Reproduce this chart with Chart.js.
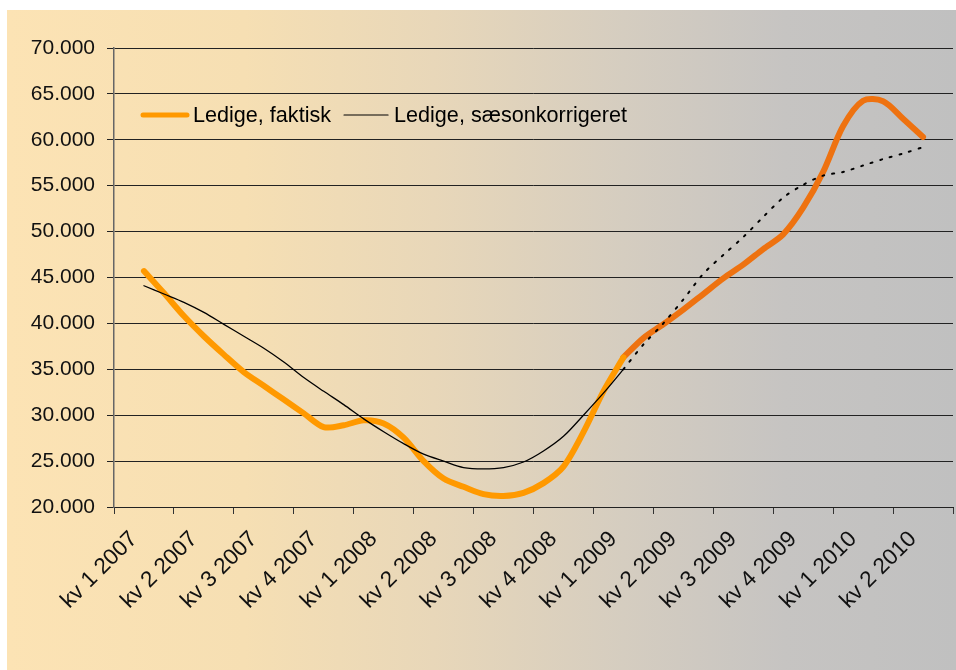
<!DOCTYPE html>
<html>
<head>
<meta charset="utf-8">
<script src="https://cdn.jsdelivr.net/npm/chart.js@4/dist/chart.umd.min.js"></script>
<style>
    html, body { margin: 0; padding: 0; background: #fff; }
    #boks {
        position: absolute;
        left: 7px;
        top: 10px;
        width: 949px;
        height: 660px;
        background: linear-gradient(to right, #fce3b4 0%, #f6dfb3 25%, #e8d7b9 45%, #d5cdc0 65%, #c6c4c2 82%, #c0c0c0 100%);
    }
</style>
</head>
<body>
<div id="boks"><canvas id="ledighed" width="949" height="660"></canvas></div>
<script>
// kvartaler paa x-aksen (3 maaneder pr. kvartal)
const kvartaler = [
    "kv 1 2007", "kv 2 2007", "kv 3 2007", "kv 4 2007",
    "kv 1 2008", "kv 2 2008", "kv 3 2008", "kv 4 2008",
    "kv 1 2009", "kv 2 2009", "kv 3 2009", "kv 4 2009",
    "kv 1 2010", "kv 2 2010",
];
// maanedstal, feb 2007 - feb 2009
const faktisk = [
    45700, 43300, 40800, 38600, 36600, 34700, 33200, 31700, 30200, 28700,
    28900, 29450, 29100, 27550, 25000, 23100, 22200, 21400, 21200, 21550,
    22600, 24400, 28150, 32600, 36300,
];
const saeson = [
    44100, 43200, 42300, 41200, 39900, 38600, 37300, 35800, 34100, 32600,
    31150, 29600, 28200, 26900, 25750, 25000, 24300, 24150, 24300, 24900,
    26100, 27700, 30000, 32400, 35000,
];
// fremskrivning, feb 2009 - maj 2010
const faktiskPrognose = [
    36300, 38400, 39900, 41500, 43200, 44900, 46400, 48100, 49700, 52600,
    56500, 61500, 64250, 64200, 62300, 60300,
];
const saesonPrognose = [
    35000, 37700, 40000, 42600, 45400, 47450, 49400, 51600, 53700, 55100,
    56100, 56500, 57200, 57900, 58500, 59200,
];
const yTicks = [20000, 25000, 30000, 35000, 40000, 45000, 50000, 55000, 60000, 65000, 70000];

const forsteMaaned = 1; // februar 2007
const prognoseStart = forsteMaaned + faktisk.length - 1;

var maaneder = [];
kvartaler.forEach((kv) => {
    maaneder.push(kv, kv, kv);
});

function udfyld(values, start) {
    var arr = new Array(maaneder.length).fill(null);
    for (let i = 0; i < values.length; i++) {
        arr[start + i] = values[i];
    }
    return arr;
}

function punktum(v) {
    return v.toString().replace(/\B(?=(\d{3})+(?!\d))/g, ".");
}

const fontFamily = "'Liberation Sans', Arial, sans-serif";

const indreLegende = {
    id: "indreLegende",
    afterDatasetsDraw(chart) {
        const ctx = chart.ctx;
        const area = chart.chartArea;
        const items = [
            { text: "Ledige, faktisk", color: "#ff9900", width: 5 },
            { text: "Ledige, sæsonkorrigeret", color: "#000000", width: 1.2 },
        ];
        var x = area.left + 29;
        const y = area.top + 67;
        ctx.save();
        ctx.font = "21.6px " + fontFamily;
        ctx.textBaseline = "middle";
        ctx.lineCap = "round";
        items.forEach((item) => {
            ctx.beginPath();
            ctx.strokeStyle = item.color;
            ctx.lineWidth = item.width;
            ctx.moveTo(x, y);
            ctx.lineTo(x + 44, y);
            ctx.stroke();
            ctx.fillStyle = "#000";
            ctx.fillText(item.text, x + 50, y + 1);
            x += 50 + ctx.measureText(item.text).width + 13;
        });
        ctx.restore();
    },
};

var ctx = document.getElementById("ledighed");
var chart = new Chart(ctx, {
    type: "line",
    data: {
        labels: maaneder,
        datasets: [
            {
                label: "Ledige, sæsonkorrigeret",
                data: udfyld(saeson, forsteMaaned),
                borderColor: "#000",
                borderWidth: 1.3,
                order: 1,
            },
            {
                label: "Ledige, sæsonkorrigeret (prognose)",
                data: udfyld(saesonPrognose, prognoseStart),
                borderColor: "#000",
                borderWidth: 2,
                borderDash: [2, 8],
                order: 2,
            },
            {
                label: "Ledige, faktisk",
                data: udfyld(faktisk, forsteMaaned),
                borderColor: "#ff9900",
                borderWidth: 6,
                order: 3,
            },
            {
                label: "Ledige, faktisk (prognose)",
                data: udfyld(faktiskPrognose, prognoseStart),
                borderColor: "#ee7210",
                borderWidth: 6,
                order: 4,
            },
        ],
    },
    options: {
        responsive: false,
        animation: false,
        layout: { padding: { top: 38, right: 3, left: 0, bottom: 0 } },
        elements: {
            point: { radius: 0, hoverRadius: 0 },
            line: { tension: 0.3, borderCapStyle: "round", borderJoinStyle: "round" },
        },
        plugins: {
            legend: { display: false },
            tooltip: { enabled: false },
        },
        scales: {
            x: {
                type: "category",
                offset: true,
                afterFit: (scale) => {
                    scale.height = 163;
                    scale.paddingLeft = 0;
                    scale.paddingRight = 0;
                },
                grid: {
                    offset: true,
                    drawOnChartArea: false,
                    drawTicks: true,
                    tickLength: 7,
                    color: (c) => (c.index === undefined || c.index % 3 == 0 ? "#333" : "rgba(0,0,0,0)"),
                },
                border: { display: true, color: "#222", width: 1 },
                ticks: {
                    autoSkip: false,
                    minRotation: 45,
                    maxRotation: 45,
                    padding: 12,
                    labelOffset: -10,
                    color: "#111",
                    font: { family: fontFamily, size: 22.5 },
                    callback: function (value, index) {
                        return index % 3 == 1 ? this.getLabelForValue(value) : "";
                    },
                },
            },
            y: {
                min: 20000,
                max: 70000,
                afterFit: (scale) => {
                    scale.width = 107;
                },
                afterBuildTicks: (scale) => {
                    scale.ticks = yTicks.map((v) => ({ value: v }));
                },
                grid: {
                    color: "#222",
                    lineWidth: 1,
                    tickLength: 7,
                },
                border: { display: true, color: "#666", width: 1.5 },
                ticks: {
                    padding: 12,
                    color: "#111",
                    font: { family: fontFamily, size: 21 },
                    callback: (v) => punktum(v),
                },
            },
        },
    },
    plugins: [indreLegende],
});
</script>
</body>
</html>
